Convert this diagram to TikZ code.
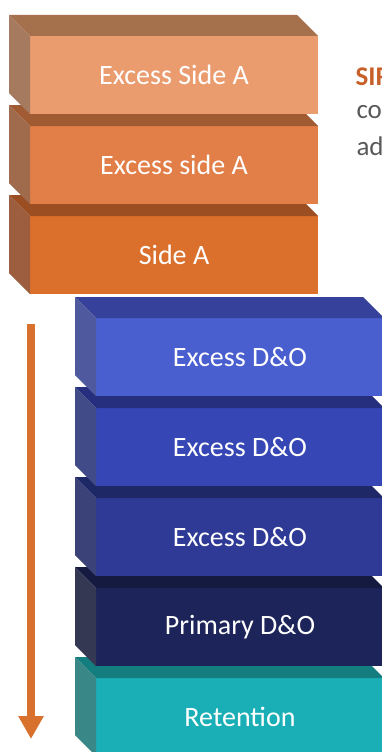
\documentclass[tikz,border=0pt]{standalone}
\usepackage{fontspec}
\setmainfont{Carlito}
\usepackage{tikz}
\usetikzlibrary{arrows.meta}

\definecolor{oFrontA}{HTML}{EA9C6F}
\definecolor{oTopA}{HTML}{A5704C}
\definecolor{oSideA}{HTML}{A67A5E}
\definecolor{oFrontB}{HTML}{E27E47}
\definecolor{oTopB}{HTML}{A05B32}
\definecolor{oSideB}{HTML}{A06A4C}
\definecolor{oFrontC}{HTML}{DB6F2C}
\definecolor{oTopC}{HTML}{9A4E22}
\definecolor{oSideC}{HTML}{9C5E3E}
\definecolor{bFrontA}{HTML}{4A5FCF}
\definecolor{bTopA}{HTML}{35419A}
\definecolor{bSideA}{HTML}{4F5A9E}
\definecolor{bFrontB}{HTML}{3647B5}
\definecolor{bTopB}{HTML}{252F7D}
\definecolor{bSideB}{HTML}{414B88}
\definecolor{bFrontC}{HTML}{2F3A96}
\definecolor{bTopC}{HTML}{1F2866}
\definecolor{bSideC}{HTML}{3B4277}
\definecolor{bFrontD}{HTML}{1D2459}
\definecolor{bTopD}{HTML}{141A40}
\definecolor{bSideD}{HTML}{343853}
\definecolor{tFront}{HTML}{1AAFB6}
\definecolor{tTop}{HTML}{147D7F}
\definecolor{tSide}{HTML}{3A8787}
\definecolor{flowOrange}{HTML}{D8702E}
\definecolor{sirOrange}{HTML}{C8602A}
\definecolor{noteGray}{HTML}{595959}

\tikzset{
    slabface/.style={anchor=north west, inner sep=0pt, outer sep=0pt,
        minimum width=288pt, minimum height=78pt, text=white,
        font=\fontsize{28}{32}\selectfont},
    flowarrow/.style={line width=8pt, flowOrange,
        -{Triangle[length=23pt,width=24pt]}},
    notetext/.style={anchor=base west, font=\fontsize{27}{32}\selectfont}
}

\begin{document}
\begin{tikzpicture}[x=1pt, y=-1pt]
    \useasboundingbox (0,0) rectangle (382,752);
    \clip (0,0) rectangle (382,752);
    % blue stack, bottom block first
    \foreach \y/\fc/\tc/\sc/\txt [count=\i] in {
        678/tFront/tTop/tSide/Retention,
        588/bFrontD/bTopD/bSideD/Primary D\&O,
        498/bFrontC/bTopC/bSideC/Excess D\&O,
        408/bFrontB/bTopB/bSideB/Excess D\&O,
        318/bFrontA/bTopA/bSideA/Excess D\&O} {
        \node[slabface, fill=\fc] (blue\i) at (96,\y) {\txt};
        \fill[\tc] (blue\i.north west) -- ++(-21,-21) -- ++(288,0)
            -- (blue\i.north east) -- cycle;
        \fill[\sc] (blue\i.north west) -- ++(-21,-21) -- ++(0,78)
            -- (blue\i.south west) -- cycle;
    }
    % orange stack
    \foreach \y/\fc/\tc/\sc/\txt [count=\i] in {
        216/oFrontC/oTopC/oSideC/Side A,
        126/oFrontB/oTopB/oSideB/Excess side A,
        36/oFrontA/oTopA/oSideA/Excess Side A} {
        \node[slabface, fill=\fc] (orange\i) at (30,\y) {\txt};
        \fill[\tc] (orange\i.north west) -- ++(-21,-21) -- ++(288,0)
            -- (orange\i.north east) -- cycle;
        \fill[\sc] (orange\i.north west) -- ++(-21,-21) -- ++(0,78)
            -- (orange\i.south west) -- cycle;
    }
    % flow arrow
    \coordinate (flowtop) at (31,324);
    \coordinate (flowend) at (31,739);
    \draw[flowarrow] (flowtop) -- (flowend);
    % side note, cut by the edge
    \node[notetext, text=sirOrange] (sir) at (352,85) {\bfseries SIR};
    \node[notetext, text=noteGray] (noteco) at (353,118) {co};
    \node[notetext, text=noteGray] (notead) at (353,155) {ad};
\end{tikzpicture}
\end{document}
